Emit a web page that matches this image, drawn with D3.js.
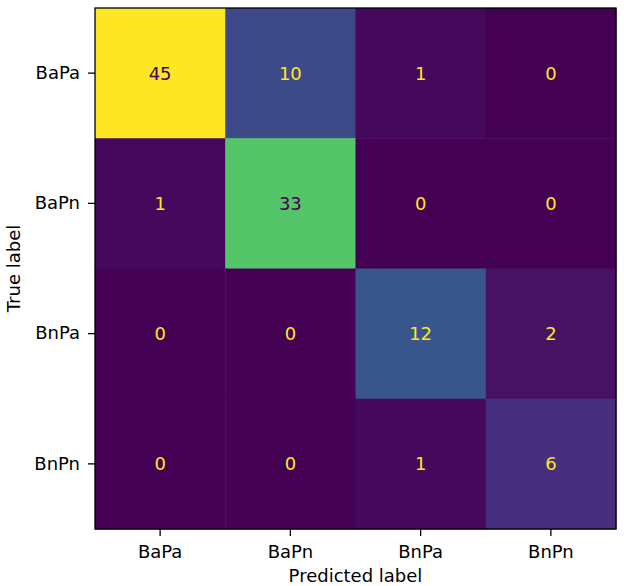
<!DOCTYPE html>
<html>
<head>
<meta charset="utf-8">
<script src="https://d3js.org/d3.v7.min.js"></script>
<style>
  body { margin: 0; background: #fff; }
  svg text { font-family: "DejaVu Sans", sans-serif; }
</style>
</head>
<body>
<div id="chart"></div>
<script>
// labels and counts (rows = true label, cols = predicted label)
var labels = ["BaPa", "BaPn", "BnPa", "BnPn"];
var row0 = [45, 10, 1, 0];
var row1 = [1, 33, 0, 0];
var row2 = [0, 0, 12, 2];
var row3 = [0, 0, 1, 6];
var rows = [row0, row1, row2, row3];

var W = 624, H = 586;
var margin = {top: 8, right: 8, bottom: 57, left: 95};
var size = 521;
var fs = "18px";

var svg = d3.select("#chart").append("svg")
  .attr("width", W).attr("height", H);
var g = svg.append("g")
  .attr("transform", "translate(" + margin.left + "," + margin.top + ")");

var x = d3.scaleBand().domain(labels).range([0, size]);
var y = d3.scaleBand().domain(labels).range([0, size]);

var vmax = d3.max(rows, function(r) { return d3.max(r); });
var vmin = d3.min(rows, function(r) { return d3.min(r); });
var color = d3.scaleSequential(d3.interpolateViridis).domain([vmin, vmax]);

var cells = [];
rows.forEach(function(r, i) {
  r.forEach(function(v, j) {
    cells.push({t: labels[i], p: labels[j], v: v});
  });
});

g.selectAll("rect.cell").data(cells).enter().append("rect")
  .attr("class", "cell")
  .attr("x", function(d) { return x(d.p); })
  .attr("y", function(d) { return y(d.t); })
  .attr("width", x.bandwidth() + 0.5)
  .attr("height", y.bandwidth() + 0.5)
  .attr("fill", function(d) { return color(d.v); });

// text colour flips at the midpoint like matplotlib
var thresh = (vmax + vmin) / 2;
g.selectAll("text.val").data(cells).enter().append("text")
  .attr("class", "val")
  .attr("x", function(d) { return x(d.p) + x.bandwidth() / 2; })
  .attr("y", function(d) { return y(d.t) + y.bandwidth() / 2; })
  .attr("dy", "0.36em")
  .attr("text-anchor", "middle")
  .style("font-size", fs)
  .attr("fill", function(d) { return d.v < thresh ? color(vmax) : color(vmin); })
  .text(function(d) { return d.v; });

// axes
var xAxis = g.append("g")
  .attr("transform", "translate(0," + size + ")")
  .call(d3.axisBottom(x).tickSize(7).tickPadding(9));
var yAxis = g.append("g")
  .call(d3.axisLeft(y).tickSize(7).tickPadding(8));

[xAxis, yAxis].forEach(function(a) {
  a.select(".domain").remove();
  a.selectAll("line").attr("stroke", "#000").attr("stroke-width", 1.3);
  a.selectAll("text").attr("fill", "#000").style("font-size", fs);
});

// frame
g.append("rect")
  .attr("width", size).attr("height", size)
  .attr("fill", "none").attr("stroke", "#000").attr("stroke-width", 1.3);

svg.append("text")
  .attr("x", margin.left + size / 2).attr("y", 582)
  .attr("text-anchor", "middle")
  .style("font-size", fs)
  .text("Predicted label");

svg.append("text")
  .attr("transform", "translate(19.5," + (margin.top + size / 2) + ") rotate(-90)")
  .attr("text-anchor", "middle")
  .style("font-size", fs)
  .text("True label");
</script>
</body>
</html>
